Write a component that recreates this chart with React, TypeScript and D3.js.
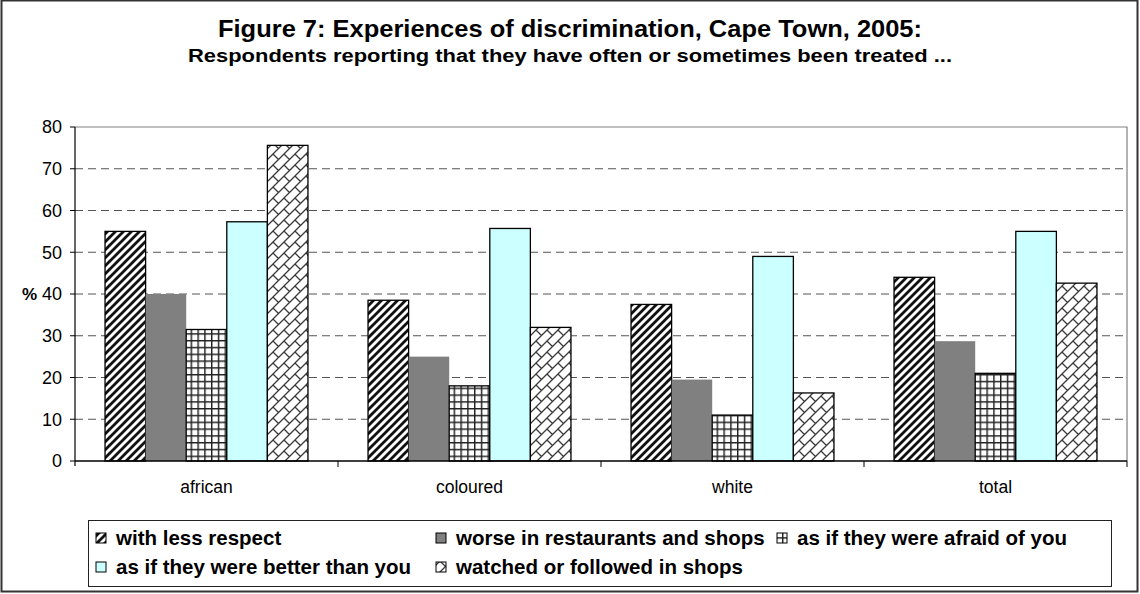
import React from 'react';
import * as d3 from 'd3';

const categories = ['african', 'coloured', 'white', 'total'];
const seriesNames = [
  'with less respect',
  'worse in restaurants and shops',
  'as if they were afraid of you',
  'as if they were better than you',
  'watched or followed in shops',
];
const lessRespect = [55, 38.5, 37.5, 44];
const worseInShops = [40, 25, 19.5, 28.7];
const afraidOfYou = [31.5, 18, 11, 21];
const betterThanYou = [57.3, 55.7, 49, 55];
const watchedInShops = [75.6, 32, 16.3, 42.6];
const yTicks = [0, 10, 20, 30, 40, 50, 60, 70, 80];

const seriesValues = [lessRespect, worseInShops, afraidOfYou, betterThanYou, watchedInShops];
const fills = ['url(#pStripe)', '#808080', 'url(#pGrid)', '#CCFFFF', 'url(#pBrick)'];
const strokes = ['#000', 'none', '#000', '#000', '#000'];

const W = 1140;
const H = 594;
const left = 75;
const right = 1127;
const top = 127;
const bottom = 461;

export default function App() {
  const x0 = d3.scaleBand<string>().domain(categories).range([left, right]).paddingInner(0).paddingOuter(0);
  const x1 = d3.scaleBand<string>().domain(seriesNames).range([0, x0.bandwidth()]).paddingInner(0).paddingOuter(0.74);
  const y = d3.scaleLinear().domain([0, 80]).range([bottom, top]);
  const font = 'Liberation Sans, Arial, sans-serif';

  const legendItems = [
    { i: 0, x: 96, y: 538 },
    { i: 1, x: 436, y: 538 },
    { i: 2, x: 777, y: 538 },
    { i: 3, x: 96, y: 567 },
    { i: 4, x: 436, y: 567 },
  ];

  return (
    <svg width={W} height={H} style={{ position: 'absolute', left: 0, top: 0, background: '#fff' }} fontFamily={font}>
      <defs>
        <pattern id="pStripe" patternUnits="userSpaceOnUse" width="8" height="8">
          <rect width="8" height="8" fill="#fff" />
          <path d="M-3,3 L3,-3 M0,8 L8,0 M5,11 L11,5" stroke="#111" strokeWidth="2.8" />
        </pattern>
        <pattern id="pGrid" patternUnits="userSpaceOnUse" width="6.8" height="6.8">
          <rect width="6.8" height="6.8" fill="#fff" />
          <path d="M0,0.7 H6.8 M0.7,0 V6.8" stroke="#222" strokeWidth="1.5" />
        </pattern>
        <pattern id="pBrick" patternUnits="userSpaceOnUse" width="11" height="11">
          <rect width="11" height="11" fill="#fff" />
          <path d="M0,11 L11,0 M-1,1 L1,-1 M10,12 L12,10 M0,0 L5.5,5.5" stroke="#3a3a3a" strokeWidth="1.3" fill="none" />
        </pattern>
      </defs>

      <rect x={1.5} y={0.5} width={1136} height={591} fill="#fff" stroke="#333" strokeWidth={2} />

      <text x={570} y={37} textAnchor="middle" fontWeight="bold" fontSize={23} textLength={704} lengthAdjust="spacingAndGlyphs">
        Figure 7: Experiences of discrimination, Cape Town, 2005:
      </text>
      <text x={570} y={62} textAnchor="middle" fontWeight="bold" fontSize={18} textLength={764} lengthAdjust="spacingAndGlyphs">
        Respondents reporting that they have often or sometimes been treated ...
      </text>

      {/* plot area border */}
      <path d={`M${left},${top} H${right} V${bottom}`} fill="none" stroke="#808080" strokeWidth={1.2} />

      {/* gridlines */}
      {yTicks.filter((t) => t > 0 && t < 80).map((t) => (
        <line key={t} x1={left} x2={right} y1={y(t)} y2={y(t)} stroke="#555" strokeWidth={1} strokeDasharray="8,5" />
      ))}

      {/* bars */}
      {categories.map((c, ci) => (
        <g key={c} transform={`translate(${x0(c)},0)`}>
          {seriesNames.map((s, si) => {
            const v = seriesValues[si][ci];
            return (
              <rect
                key={s}
                x={x1(s)}
                y={y(v)}
                width={x1.bandwidth()}
                height={y(0) - y(v)}
                fill={fills[si]}
                stroke={strokes[si]}
                strokeWidth={1.3}
              />
            );
          })}
        </g>
      ))}

      {/* axes */}
      <line x1={left} x2={left} y1={top} y2={bottom + 5} stroke="#000" strokeWidth={1.2} />
      <line x1={left} x2={right} y1={bottom} y2={bottom} stroke="#000" strokeWidth={1.5} />
      {yTicks.map((t) => (
        <g key={t}>
          <line x1={left - 5} x2={left} y1={y(t)} y2={y(t)} stroke="#000" strokeWidth={1} />
          <text x={62} y={y(t)} dy="0.36em" textAnchor="end" fontSize={18}>
            {t}
          </text>
        </g>
      ))}
      {categories.slice(1).map((c) => (
        <line key={c} x1={x0(c)} x2={x0(c)} y1={bottom} y2={bottom + 6} stroke="#000" strokeWidth={1} />
      ))}
      <line x1={right} x2={right} y1={bottom} y2={bottom + 6} stroke="#000" strokeWidth={1} />
      {categories.map((c) => (
        <text key={c} x={(x0(c) as number) + x0.bandwidth() / 2} y={487} dy="0.36em" textAnchor="middle" fontSize={17.5}>
          {c}
        </text>
      ))}
      <text x={37} y={y(40)} dy="0.36em" textAnchor="end" fontSize={17} fontWeight="bold">%</text>

      {/* legend */}
      <rect x={88.5} y={520.5} width={1023} height={66} fill="#fff" stroke="#222" strokeWidth={1} />
      {legendItems.map((it) => (
        <g key={it.i}>
          <rect x={it.x} y={it.y - 5} width={10} height={10} fill={fills[it.i]} stroke="#000" strokeWidth={1} />
          <text x={it.x + 20} y={it.y} dy="0.36em" fontSize={20.5} fontWeight="bold">
            {seriesNames[it.i]}
          </text>
        </g>
      ))}
    </svg>
  );
}
